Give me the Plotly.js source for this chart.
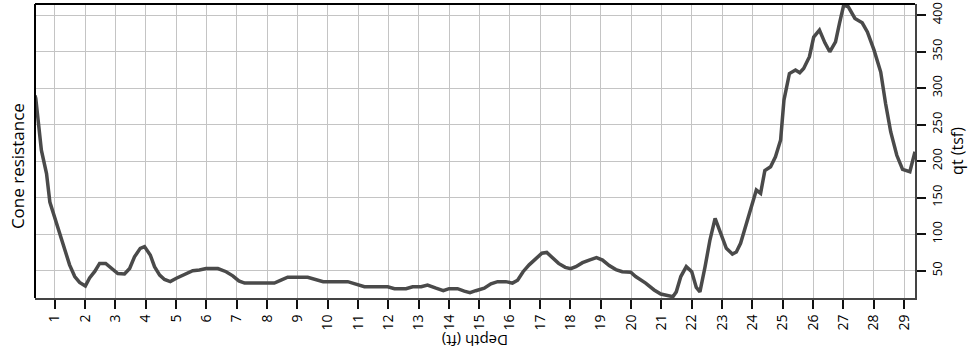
<!DOCTYPE html>
<html>
<head>
<meta charset="utf-8">
<script src="https://cdn.plot.ly/plotly-3.0.1.min.js"></script>
<style>html,body{margin:0;padding:0;background:#fff;}#chart{width:969px;height:360px;}</style>
</head>
<body>
<div id="chart"></div>
<script>
// Depth (ft)
const depth = [0.35, 0.375, 0.56, 0.73, 0.84, 1.16, 1.36, 1.49, 1.66, 1.82, 2.01, 2.15, 2.32, 2.48, 2.68, 2.86, 3.08, 3.30, 3.47, 3.63, 3.82, 3.96, 4.15, 4.29, 4.46, 4.62, 4.81, 5.01, 5.22, 5.55, 5.77, 5.99, 6.38, 6.65, 6.87, 7.07, 7.26, 8.24, 8.46, 8.68, 9.34, 9.62, 9.85, 10.66, 10.93, 11.21, 11.98, 12.2, 12.58, 12.8, 13.08, 13.29, 13.57, 13.81, 14.0, 14.28, 14.5, 14.69, 14.88, 15.16, 15.38, 15.6, 15.87, 16.09, 16.26, 16.44, 16.64, 16.86, 17.06, 17.22, 17.41, 17.61, 17.83, 18.01, 18.18, 18.4, 18.62, 18.86, 19.06, 19.28, 19.5, 19.71, 19.99, 20.15, 20.48, 20.76, 20.98, 21.25, 21.38, 21.49, 21.64, 21.82, 22.0, 22.15, 22.27, 22.44, 22.6, 22.77, 22.92, 23.14, 23.34, 23.47, 23.61, 23.83, 24.0, 24.13, 24.27, 24.41, 24.6, 24.76, 24.93, 25.04, 25.22, 25.42, 25.56, 25.69, 25.88, 26.02, 26.21, 26.39, 26.55, 26.74, 26.87, 27.01, 27.16, 27.38, 27.62, 27.79, 28.01, 28.23, 28.39, 28.56, 28.76, 28.95, 29.19, 29.36];
// qt (tsf)
const qt = [290, 286, 215, 183, 144, 101, 78, 58, 42, 34, 29, 40, 49, 60, 60, 53, 46, 45.5, 53, 69, 80.6, 83, 71.5, 55.5, 44, 38, 35, 39.6, 44, 50, 51, 53, 53, 48.6, 43, 36, 33, 33, 37, 41, 41, 38, 35, 35, 32, 28, 28, 25.4, 25.4, 28, 28, 30.4, 26, 22.6, 25.4, 25.4, 22, 20, 22.6, 26, 32, 35, 35, 33, 37, 48.6, 58, 67, 74, 75, 67, 60, 54.6, 52.7, 55.5, 61, 64.6, 67.8, 64.6, 57, 51.5, 48.6, 47.8, 42, 33, 23.6, 18, 15.4, 14.4, 21, 42, 55.5, 48.6, 27, 21, 55.5, 92, 121.7, 105.7, 80.6, 72.8, 75.6, 87.5, 119.4, 144.4, 160.5, 156, 187, 192.4, 206, 229, 283.6, 320, 324.7, 321, 327, 343, 370, 379.5, 362, 349.8, 363.4, 388.6, 413.7, 411.4, 395.5, 389.5, 377, 352, 322, 279, 240, 208, 188.8, 185.5, 213];
// Tick labels
const depthTicks = [1,2,3,4,5,6,7,8,9,10,11,12,13,14,15,16,17,18,19,20,21,22,23,24,25,26,27,28,29];
const qtTicks = [50,100,150,200,250,300,350,400];

const font = {family: '"Open Sans", "Noto Sans", sans-serif', color: '#000'};

const trace = {
  x: depth, y: qt, type: 'scatter', mode: 'lines',
  line: {color: '#4a4a4a', width: 3.5},
  hoverinfo: 'skip', showlegend: false
};

const layout = {
  width: 969, height: 360,
  margin: {l: 35, r: 54, t: 4, b: 62},
  paper_bgcolor: '#fff', plot_bgcolor: '#fff',
  font: Object.assign({size: 13}, font),
  showlegend: false,
  xaxis: {
    range: [0.35, 29.36],
    tickvals: depthTicks, ticktext: depthTicks.map(String),
    tickangle: -90,
    ticks: 'outside', ticklen: 9, tickwidth: 2, tickcolor: '#111',
    showline: true, linecolor: '#444', linewidth: 2,
    showgrid: true, gridcolor: '#c4c4c4', gridwidth: 1,
    zeroline: false,
    tickfont: Object.assign({size: 14}, font)
  },
  yaxis: {
    side: 'right',
    range: [12.6, 415.2],
    tickvals: qtTicks, ticktext: qtTicks.map(String),
    tickangle: -90,
    ticks: 'outside', ticklen: 9, tickwidth: 2, tickcolor: '#111',
    showline: true, linecolor: '#444', linewidth: 2,
    showgrid: true, gridcolor: '#c4c4c4', gridwidth: 1,
    zeroline: false,
    tickfont: Object.assign({size: 13}, font),
    title: {text: 'qt (tsf)', font: Object.assign({size: 16}, font), standoff: 4}
  },
  shapes: [
    {type: 'line', xref: 'paper', yref: 'paper', x0: 0, x1: 1, y0: 1, y1: 1, line: {color: '#000', width: 2}},
    {type: 'line', xref: 'paper', yref: 'paper', x0: 0, x1: 0, y0: 0, y1: 1, line: {color: '#000', width: 2}}
  ],
  annotations: [
    {text: 'Cone resistance', xref: 'paper', yref: 'paper', x: -0.02, y: 0.45,
     xanchor: 'center', yanchor: 'middle', textangle: -90, showarrow: false,
     font: Object.assign({size: 17}, font)},
    {text: 'Depth (ft)', xref: 'paper', yref: 'paper', x: 0.5, y: -0.146,
     xanchor: 'center', yanchor: 'middle', textangle: 180, showarrow: false,
     font: Object.assign({size: 15}, font)}
  ]
};

Plotly.newPlot('chart', [trace], layout, {displayModeBar: false, staticPlot: true});
</script>
</body>
</html>
